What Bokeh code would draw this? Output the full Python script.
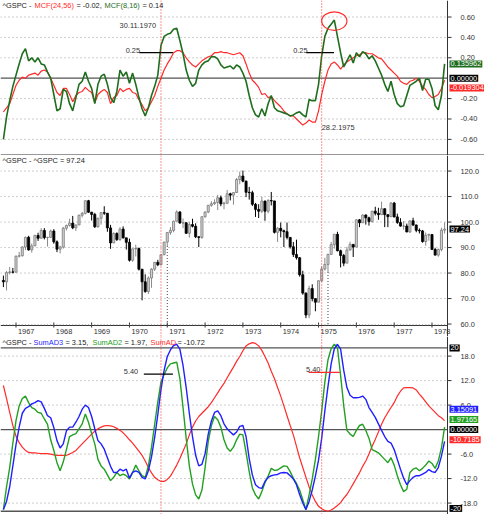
from bokeh.plotting import figure
from bokeh.layouts import column
from bokeh.models import Range1d, Span, Label, ColumnDataSource
from bokeh.core.properties import value
from bokeh.embed import file_html
from bokeh.resources import INLINE

# ---------------- data (monthly S&P 500, Sep 1966 .. May 1978) ----------------
first_year, first_month = 1966, 9
prev_close = 77.10
close = [76.56, 80.20, 80.45, 80.33,
         86.61, 86.78, 90.20, 94.01, 89.08, 90.64, 94.75, 93.64, 96.71, 93.90, 94.00, 96.47,
         92.24, 89.36, 90.20, 97.59, 98.68, 99.58, 97.74, 98.86, 102.67, 103.41, 108.37, 103.86,
         103.01, 98.13, 101.51, 103.69, 103.46, 97.71, 91.83, 95.51, 93.12, 97.24, 93.81, 92.06,
         85.02, 89.50, 89.63, 81.52, 76.55, 72.72, 78.05, 81.52, 84.21, 83.25, 87.20, 92.15,
         95.88, 96.75, 100.31, 103.95, 99.63, 99.70, 95.58, 99.03, 98.34, 94.23, 93.99, 102.09,
         103.94, 106.57, 107.20, 107.67, 109.53, 107.14, 107.39, 111.09, 110.55, 111.58, 116.67, 118.05,
         116.03, 111.68, 111.52, 106.97, 104.95, 104.26, 108.22, 104.25, 108.43, 108.29, 95.96, 97.55,
         96.57, 96.22, 93.98, 90.31, 87.28, 86.00, 79.31, 72.15, 63.54, 73.90, 69.97, 68.56,
         76.98, 81.59, 83.36, 87.30, 91.15, 95.19, 88.75, 86.88, 83.87, 89.04, 91.24, 90.19,
         100.86, 99.71, 102.77, 101.64, 100.18, 104.28, 103.44, 102.91, 105.24, 102.90, 102.10, 107.46,
         102.03, 99.82, 98.42, 98.44, 96.12, 100.48, 98.85, 96.77, 96.53, 92.34, 94.83, 95.10,
         89.25, 87.04, 89.21, 96.83, 97.24]
high = [79.0, 80.8, 82.4, 82.0,
        86.9, 88.3, 90.5, 94.3, 94.6, 91.6, 95.0, 95.8, 97.6, 97.6, 94.2, 97.0,
        97.2, 92.8, 90.7, 98.1, 99.0, 101.3, 102.4, 99.0, 102.9, 104.0, 108.4, 108.7,
        104.0, 103.6, 101.6, 103.9, 106.2, 103.5, 98.9, 96.0, 96.0, 98.0, 98.3, 93.8,
        93.5, 89.6, 91.1, 90.0, 81.5, 79.5, 78.7, 81.9, 84.3, 85.2, 87.2, 92.2,
        96.0, 98.0, 100.6, 104.6, 104.3, 101.4, 100.0, 100.0, 101.3, 99.5, 94.3, 102.1,
        104.2, 106.7, 108.2, 108.9, 110.7, 110.4, 108.0, 112.6, 111.5, 111.6, 117.3, 119.8,
        120.2, 116.3, 113.8, 112.3, 107.5, 107.0, 109.9, 108.4, 109.0, 111.8, 108.3, 98.0,
        99.8, 97.0, 99.8, 94.0, 92.2, 93.1, 86.3, 80.9, 72.4, 75.0, 75.6, 70.0,
        77.1, 82.6, 86.0, 87.6, 92.2, 95.3, 96.2, 89.2, 87.5, 90.3, 92.3, 91.3,
        101.1, 101.2, 103.0, 103.0, 102.1, 104.3, 106.0, 105.6, 108.0, 105.3, 103.0, 107.8,
        107.9, 103.3, 101.5, 100.4, 99.4, 100.5, 101.7, 99.0, 97.5, 96.9, 95.9, 95.5,
        95.2, 89.9, 89.6, 97.8, 99.9]
low = [74.5, 73.2, 79.5, 79.9,
       80.4, 86.1, 86.5, 89.0, 88.8, 88.0, 90.6, 92.6, 93.6, 93.2, 90.4, 93.9,
       91.5, 88.2, 87.7, 89.6, 96.7, 98.2, 97.2, 96.5, 98.9, 101.8, 103.0, 103.6,
       100.6, 97.7, 97.8, 99.0, 102.8, 96.2, 89.5, 91.7, 92.6, 92.6, 93.5, 89.2,
       84.5, 84.4, 86.5, 81.0, 69.3, 72.3, 71.8, 74.2, 80.8, 82.7, 83.0, 87.0,
       90.6, 95.0, 96.0, 100.4, 99.3, 97.6, 95.4, 93.9, 97.9, 93.7, 90.2, 93.4,
       101.7, 103.5, 106.0, 106.7, 104.7, 106.2, 105.0, 107.0, 108.5, 106.8, 111.5, 114.8,
       115.6, 109.8, 108.8, 106.3, 102.0, 101.6, 103.5, 100.5, 103.4, 106.5, 95.5, 92.2,
       94.0, 90.2, 93.2, 89.6, 86.3, 85.3, 78.6, 71.5, 62.3, 62.3, 68.9, 65.0,
       68.7, 76.5, 81.0, 80.4, 87.1, 89.6, 88.5, 82.2, 82.7, 83.9, 88.8, 86.3,
       90.2, 98.0, 99.7, 99.0, 98.6, 99.8, 102.6, 100.9, 102.9, 98.0, 98.0, 102.0,
       101.8, 99.3, 98.2, 97.0, 96.0, 95.7, 98.4, 96.0, 95.5, 91.9, 90.7, 92.7,
       89.0, 86.9, 86.4, 88.5, 95.5]

mcf_24_56 = [-0.33, -0.29, -0.25, -0.16, -0.07, -0.02, 0.01, 0.00, 0.03, 0.04,
             0.05, 0.03, 0.07, 0.08, 0.06, 0.00, -0.07, -0.14, -0.17, -0.10,
             -0.10, -0.16, -0.23, -0.17, -0.14, -0.13, -0.09, -0.12, -0.14, -0.24,
             -0.16, -0.13, -0.11, -0.14, -0.25, -0.19, -0.17, -0.10, -0.13, -0.11,
             -0.10, -0.14, -0.15, -0.21, -0.26, -0.32, -0.29, -0.23, -0.17, -0.08,
             0.00, 0.08, 0.14, 0.19, 0.25, 0.27, 0.27, 0.25, 0.20, 0.16,
             0.13, 0.11, 0.14, 0.17, 0.19, 0.21, 0.22, 0.25, 0.25, 0.26,
             0.25, 0.25, 0.24, 0.23, 0.24, 0.25, 0.22, 0.14, 0.05, -0.02,
             -0.05, -0.09, -0.16, -0.15, -0.19, -0.18, -0.22, -0.25, -0.28, -0.32,
             -0.35, -0.37, -0.37, -0.40, -0.43, -0.46, -0.44, -0.41, -0.43, -0.43,
             -0.32, -0.16, -0.03, 0.08, 0.14, 0.16, 0.13, 0.09, 0.13, 0.16,
             0.18, 0.20, 0.22, 0.23, 0.25, 0.25, 0.24, 0.24, 0.22, 0.20,
             0.19, 0.15, 0.11, 0.08, 0.05, 0.02, -0.03, -0.05, -0.06, -0.03,
             -0.02, 0.00, -0.03, -0.08, -0.11, -0.16, -0.19, -0.18, -0.16, -0.10, -0.02]
mcf_8_16 = [-0.60, -0.38, -0.22, -0.08, 0.03, 0.14, 0.24, 0.29, 0.17, 0.20,
            0.16, 0.20, 0.14, 0.13, 0.06, 0.00, -0.16, -0.32, -0.30, -0.11,
            -0.13, -0.25, -0.32, -0.19, -0.06, -0.03, 0.06, -0.03, -0.10, -0.25,
            -0.06, 0.02, 0.04, -0.06, -0.19, -0.24, -0.13, 0.08, 0.02, 0.06,
            -0.05, 0.05, -0.06, -0.19, -0.30, -0.37, -0.29, -0.17, -0.08, 0.03,
            0.32, 0.41, 0.43, 0.44, 0.48, 0.49, 0.37, 0.24, 0.08, -0.02,
            -0.08, -0.05, 0.08, 0.13, 0.16, 0.17, 0.21, 0.21, 0.19, 0.13,
            0.10, 0.11, 0.12, 0.09, 0.13, 0.11, 0.05, -0.03, -0.17, -0.29,
            -0.36, -0.38, -0.30, -0.37, -0.25, -0.17, -0.29, -0.32, -0.33, -0.34,
            -0.35, -0.37, -0.36, -0.34, -0.33, -0.36, -0.38, -0.21, -0.22, -0.22,
            -0.06, 0.22, 0.41, 0.49, 0.53, 0.57, 0.41, 0.25, 0.11, 0.17,
            0.23, 0.15, 0.25, 0.21, 0.26, 0.24, 0.19, 0.22, 0.17, 0.10,
            0.03, -0.06, -0.13, -0.03, -0.16, -0.25, -0.28, -0.27, -0.17, -0.07,
            -0.05, -0.03, 0.00, -0.12, -0.01, -0.01, -0.10, -0.27, -0.31, -0.17, 0.14]
sumad3 = [-19.6, -17.6, -14.0, -8.9, -3.7, 0.6, 4.0, 5.2, 5.6, 6.3,
          6.6, 7.1, 6.8, 5.2, 3.4, 2.9, 0.5, -2.7, -4.5, -3.5,
          -0.3, 0.6, 0.6, 1.8, 3.2, 5.0, 6.0, 5.4, 3.2, 0.2,
          -2.7, -3.5, -4.8, -6.9, -9.0, -10.5, -10.5, -9.7, -10.1, -9.7,
          -11.9, -10.5, -10.1, -10.5, -11.7, -12.1, -10.1, -6.7, -1.9, 3.7,
          9.8, 14.5, 17.9, 19.5, 20.6, 20.9, 19.7, 15.7, 10.3, 4.0,
          -1.7, -6.3, -8.9, -8.5, -5.9, -1.1, 2.1, 4.2, 4.6, 3.4,
          1.4, 0.2, -0.6, -1.3, -0.6, 0.8, 1.0, -1.7, -7.1, -11.1,
          -13.5, -14.2, -14.4, -12.7, -11.7, -11.3, -11.1, -11.0, -10.6, -10.5,
          -10.6, -11.3, -12.1, -13.5, -15.9, -18.0, -19.6, -17.6, -14.8, -11.4,
          -7.5, -2.1, 4.6, 10.6, 16.1, 19.8, 20.9, 19.7, 14.5, 10.3,
          8.4, 7.8, 7.8, 7.9, 8.2, 7.4, 5.4, 4.2, 3.0, 1.4,
          -0.2, -1.7, -2.9, -3.3, -4.9, -7.3, -9.7, -11.9, -13.5, -12.5,
          -11.7, -11.3, -11.3, -10.9, -10.5, -9.8, -10.3, -10.5, -9.3, -6.5, -2.9]
sumad2 = [-19.6, -14.0, -9.3, -3.3, 2.2, 5.8, 7.6, 8.2, 6.6, 5.4,
          5.0, 4.2, 4.0, 2.6, 1.3, -2.5, -5.1, -8.1, -10.1, -7.9,
          -4.9, -1.7, -1.3, -1.0, 0.2, 1.4, 3.8, 1.8, -1.0, -3.5,
          -7.3, -8.9, -9.7, -11.1, -12.5, -11.7, -10.5, -11.3, -10.9, -11.3,
          -12.1, -10.5, -8.7, -10.1, -11.3, -11.7, -8.9, -4.3, 1.3, 6.8,
          11.6, 13.5, 15.1, 16.1, 16.3, 16.5, 12.5, 5.4, -2.1, -8.9,
          -13.3, -16.0, -17.0, -14.8, -9.3, -2.9, 1.0, 3.2, 2.4, 0.6,
          -2.5, -4.5, -5.3, -4.3, -2.5, -1.1, -1.3, -5.6, -10.3, -14.3,
          -16.0, -17.0, -15.2, -13.0, -11.4, -9.5, -10.0, -9.9, -9.4, -8.9,
          -9.0, -10.3, -11.9, -13.2, -14.8, -17.2, -19.6, -16.0, -12.1, -7.3,
          -1.7, 4.6, 11.7, 17.1, 19.8, 20.9, 20.1, 13.3, 5.8, -0.2,
          -1.1, -1.7, -0.2, 1.0, 1.3, -0.2, -2.1, -4.9, -5.3, -5.7,
          -6.5, -7.3, -8.1, -6.9, -8.7, -11.3, -13.5, -15.2, -14.6, -10.5,
          -9.7, -9.4, -10.1, -9.5, -8.7, -7.7, -8.3, -9.5, -7.7, -4.5, 0.6]
sumad = [10.8, 7.6, 4.2, 1.0, -1.6, -3.2, -4.3, -5.1, -5.6, -5.7,
         -5.7, -5.8, -5.9, -5.9, -5.9, -6.0, -6.2, -6.3, -6.3, -6.3,
         -6.3, -6.0, -5.6, -5.1, -4.3, -3.5, -2.7, -1.9, -1.1, -0.4,
         0.2, 0.6, 0.9, 1.0, 0.9, 0.7, 0.3, -0.2, -0.8, -1.6,
         -2.5, -3.3, -4.3, -5.3, -6.3, -7.7, -9.3, -10.6, -11.7, -12.3,
         -12.7, -12.7, -12.2, -11.4, -10.1, -8.7, -7.1, -5.3, -3.5, -1.3,
         0.6, 2.1, 3.2, 4.0, 4.8, 5.6, 6.6, 7.8, 9.0, 10.2,
         11.3, 12.7, 14.0, 15.3, 16.7, 17.9, 19.3, 20.5, 21.0, 21.3,
         21.1, 20.5, 19.4, 17.9, 16.3, 14.3, 12.5, 10.3, 8.2, 5.8,
         3.4, 1.0, -1.3, -4.1, -6.9, -9.3, -11.7, -14.0, -16.0, -17.6,
         -18.8, -19.4, -19.8, -20.0, -19.7, -19.2, -18.6, -17.9, -16.8, -15.9,
         -14.6, -13.3, -11.9, -10.6, -9.0, -7.7, -6.0, -4.1, -2.4, -0.6,
         1.3, 2.9, 4.2, 5.4, 6.6, 8.2, 9.4, 10.2, 10.3, 10.3,
         10.2, 9.7, 8.7, 7.8, 6.8, 5.8, 5.0, 4.2, 3.4, 2.9, 2.2]

years = list(range(1967, 1979))
signal_idx = [50, 101]          # 30.11.1970 and 28.2.1975 (red dotted)
signal_text = ["30.11.1970", "28.2.1975"]
marker_idx = [52, 103]          # black dotted bars in the price pane
mcf_ticks = [-0.6, -0.4, -0.2, 0.2, 0.4, 0.6]
price_ticks = [60, 70, 80, 90, 100, 110, 120]
sum_ticks = [-18, -12, -6, 6, 12, 18]
level_mcf = 0.25
level_sum_text = "5.40"

# ---------------- styles / layout ----------------
FONT = "Liberation Sans"
FS = "7.4px"
W = 484
FW = 447                          # width of the data area, axis at its right edge
X0, AXIS_X = 1966.59, 1978.41
PXY = FW / (AXIS_X - X0)          # pixels per year
XR = Range1d(X0, X0 + W / PXY)
RED = "#ff2a2a"
DKGREEN = "#1e6e1e"
GREEN = "#22a022"
BLUE = "#1f1fff"
AX = "#333333"
TXT = "#222222"

t = [first_year + (first_month - 1 + k) / 12.0 for k in range(len(close))]
open_ = [prev_close] + close[:-1]


def panel(h, y0, y1):
    p = figure(width=W, height=h, x_range=XR, y_range=Range1d(y0, y1),
               output_backend="svg", toolbar_location=None,
               x_axis_location=None, y_axis_location=None, min_border=0)
    p.grid.visible = False
    p.outline_line_color = None
    p.background_fill_color = "white"
    p.border_fill_color = "white"
    p.add_layout(Span(location=AXIS_X, dimension="height", line_color=AX, line_width=1))
    return p


def right_axis(p, ticks, fmt, grid=True):
    if grid:
        p.segment(x0=[X0] * len(ticks), y0=ticks, x1=[AXIS_X] * len(ticks), y1=ticks,
                  line_color="#9a9a9a", line_dash="1 3", line_width=1)
    p.segment(x0=[AXIS_X] * len(ticks), y0=ticks, x1=[AXIS_X + 4 / PXY] * len(ticks),
              y1=ticks, line_color=AX, line_width=1)
    p.text(x=[AXIS_X] * len(ticks), y=ticks, text=[fmt % v for v in ticks], x_offset=13,
           text_font=value(FONT), text_font_size=value(FS), text_color=AX,
           text_baseline="middle", text_align="left")


def legend(p, pieces, y):
    for txt, x, col in pieces:
        p.add_layout(Label(x=x, y=y, x_units="screen", y_units="screen", text=txt,
                           text_font=FONT, text_font_size=FS, text_color=col,
                           text_baseline="middle", text_align="left"))


def box(p, yv, txt, col):
    p.add_layout(Label(x=AXIS_X, y=yv, x_offset=2, text=txt, padding=1,
                       text_font=FONT, text_font_size=FS, text_color="white",
                       background_fill_color=col, text_baseline="middle",
                       text_align="left"))


def hline(p, lv, col="#555555", lw=1.2):
    p.segment(x0=[X0], y0=[lv], x1=[AXIS_X], y1=[lv], line_color=col, line_width=lw)


def signals(p):
    for i in signal_idx:
        p.add_layout(Span(location=t[i], dimension="height", line_color=RED,
                          line_dash="1 2", line_width=1))


# ---------------- panel 1: MCF ----------------
H1 = 155
Y1_LO, Y1_HI = -0.758, 0.762
p1 = panel(H1, Y1_LO, Y1_HI)
right_axis(p1, mcf_ticks, "%.2f")
hline(p1, 0)
p1.add_layout(Span(location=Y1_LO + 0.5 * (Y1_HI - Y1_LO) / H1, dimension="width",
                   line_color=AX, line_width=1.2))
signals(p1)
p1.line(t, mcf_24_56, line_color=RED, line_width=1.2)
p1.line(t, mcf_8_16, line_color=DKGREEN, line_width=1.6)
p1.segment(x0=[1970.26, 1974.67], y0=[level_mcf] * 2, x1=[1971.15, 1975.41], y1=[level_mcf] * 2,
           line_color="black", line_width=1.2)
for xt, yt in [(1969.90, 0.267), (1974.33, 0.267)]:
    p1.add_layout(Label(x=xt, y=yt, text="0.25", text_font=FONT, text_font_size=FS,
                        text_color=AX, text_baseline="middle"))
p1.add_layout(Label(x=1969.74, y=0.514, text=signal_text[0], text_font=FONT,
                    text_font_size=FS, text_color=AX, text_baseline="middle"))
p1.add_layout(Label(x=t[signal_idx[1]], y=-0.486, text=signal_text[1], text_font=FONT,
                    text_font_size=FS, text_color=AX, text_baseline="middle"))
pk = mcf_8_16.index(max(mcf_8_16))
p1.ellipse(x=[t[pk]], y=[mcf_8_16[pk] - 0.01], width=0.667, height=0.181,
           fill_color=None, line_color=RED, line_width=1.2)
legend(p1, [("^GSPC - ", 2, TXT), ("MCF(24,56)", 34, RED), ("= -0.02,", 76, TXT),
            ("MCF(8,16)", 104, DKGREEN), ("= 0.14", 142, TXT)], H1 - 5)
box(p1, mcf_8_16[-1], "0.135962", DKGREEN)
box(p1, 0, "0.00000", "black")
box(p1, -0.095, "-0.019304", RED)

# ---------------- panel 2: price ----------------
H2F, H2A = 170, 11
Y2_LO, Y2_HI = 59.43, 126.1
PXU2 = H2F / (Y2_HI - Y2_LO)
p2 = panel(H2F + H2A, Y2_LO - H2A / PXU2, Y2_HI)
right_axis(p2, price_ticks[1:], "%.1f")
right_axis(p2, price_ticks[:1], "%.1f", grid=False)
signals(p2)
# time axis
hline(p2, Y2_LO, AX, 1.0)
p2.segment(x0=years, y0=[Y2_LO - 2 / PXU2] * len(years), x1=years,
           y1=[Y2_LO + 3 / PXU2] * len(years), line_color=AX, line_width=1)
p2.segment(x0=t, y0=[Y2_LO] * len(t), x1=t, y1=[Y2_LO + 1.2 / PXU2] * len(t),
           line_color="#777777", line_width=0.8)
p2.text(x=years, y=[Y2_LO - 5.5 / PXU2] * len(years), text=[str(y) for y in years],
        x_offset=2, text_font=value(FONT), text_font_size=value(FS), text_color=AX,
        text_baseline="middle", text_align="left")
up = [c >= o for o, c in zip(open_, close)]
src_up = ColumnDataSource(dict(
    x=[x for x, u in zip(t, up) if u],
    top=[c for c, u in zip(close, up) if u],
    bottom=[o for o, u in zip(open_, up) if u],
    hi=[h for h, u in zip(high, up) if u],
    lo=[l for l, u in zip(low, up) if u]))
src_dn = ColumnDataSource(dict(
    x=[x for x, u in zip(t, up) if not u],
    top=[o for o, u in zip(open_, up) if not u],
    bottom=[c for c, u in zip(close, up) if not u],
    hi=[h for h, u in zip(high, up) if not u],
    lo=[l for l, u in zip(low, up) if not u]))
p2.segment(x0="x", y0="lo", x1="x", y1="hi", source=src_up, line_color="#8a8a8a", line_width=1)
p2.segment(x0="x", y0="lo", x1="x", y1="hi", source=src_dn, line_color="black", line_width=1)
p2.vbar(x="x", width=0.055, top="top", bottom="bottom", source=src_up,
        fill_color="#d0d0d0", line_color="#7a7a7a", line_width=0.8)
p2.vbar(x="x", width=0.055, top="top", bottom="bottom", source=src_dn,
        fill_color="black", line_color="black", line_width=0.8)
p2.segment(x0=[t[i] for i in marker_idx], y0=[low[i] for i in marker_idx],
           x1=[t[i] for i in marker_idx], y1=[Y2_LO] * len(marker_idx),
           line_color="#444444", line_dash="1 2", line_width=1)
legend(p2, [("^GSPC - ^GSPC = 97.24", 2, TXT)], H2F + H2A - 5)
box(p2, close[-1], "97.24", "black")

# ---------------- panel 3: SumAD ----------------
H3 = 178
p3 = panel(H3, -20.8, 22.8)
right_axis(p3, sum_ticks, "%.1f")
for lv in (20, 0, -20):
    hline(p3, lv, "#555555", 1.3)
signals(p3)
p3.line(t, sumad, line_color=RED, line_width=1.2)
p3.line(t, sumad2, line_color=GREEN, line_width=1.4)
p3.line(t, sumad3, line_color=BLUE, line_width=1.4)
p3.segment(x0=[1970.38], y0=[13.6], x1=[1971.15], y1=[13.6], line_color="black", line_width=1.2)
p3.segment(x0=[1974.74], y0=[14.0], x1=[1975.56], y1=[14.0], line_color=RED, line_width=1.2)
for xt, yt in [(1969.85, 14.2), (1974.67, 14.8)]:
    p3.add_layout(Label(x=xt, y=yt, text=level_sum_text, text_font=FONT, text_font_size=FS,
                        text_color=AX, text_baseline="middle"))
legend(p3, [("^GSPC - ", 2, TXT), ("SumAD3", 33, BLUE), ("= 3.15,", 65, TXT),
            ("SumAD2", 92, GREEN), ("= 1.97,", 124, TXT), ("SumAD", 150, RED),
            ("= -10.72", 177, TXT)], H3 - 6)
box(p3, 20, "20", "black")
box(p3, -19.3, "-20", "black")
box(p3, 5.0, "3.15091", BLUE)
box(p3, 2.5, "1.97165", GREEN)
box(p3, 0, "0.00000", "black")
box(p3, -2.5, "-10.7185", RED)

layout = column(p1, p2, p3, spacing=0)
open("out.html", "w").write(file_html(layout, INLINE))
